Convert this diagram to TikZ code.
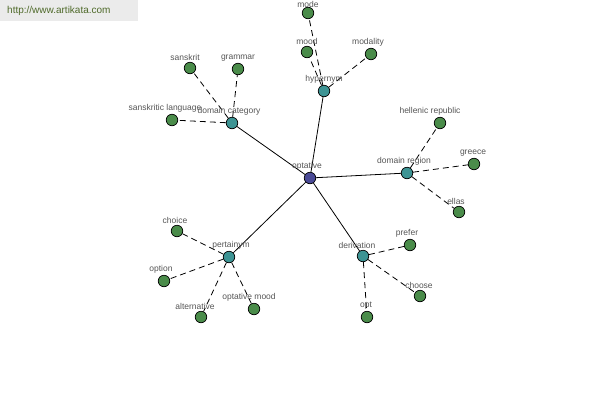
\documentclass[tikz,border=0pt]{standalone}
\usepackage{fontspec}
\setmainfont{Liberation Sans}
\usetikzlibrary{backgrounds}
\definecolor{centerfill}{HTML}{4A4A96}
\definecolor{relfill}{HTML}{3D9494}
\definecolor{leaffill}{HTML}{4A8C4A}
\definecolor{lblgray}{HTML}{555555}
\definecolor{sitegreen}{HTML}{4F6A2A}
\definecolor{sitebg}{HTML}{EBEBEB}
\tikzset{
  word/.style={circle, draw, line width=0.7pt, minimum size=11.5pt, inner sep=0pt},
  centerword/.style={word, fill=centerfill},
  relword/.style={word, fill=relfill},
  leafword/.style={word, fill=leaffill},
  every label/.style={font=\fontsize{8.5}{9}\selectfont, text=lblgray, inner sep=1pt, xshift=-3pt},
  rel/.style={line width=0.8pt},
  leafedge/.style={line width=0.8pt, dash pattern=on 6pt off 4pt}
}
\begin{document}
\begin{tikzpicture}[x=1pt, y=-1pt]
\useasboundingbox (0,0) rectangle (600,400);
% site banner
\fill[sitebg] (0,0) rectangle (138,21);
\node[anchor=west, text=sitegreen, font=\fontsize{10}{11}\selectfont, inner sep=0pt] (site) at (7,11) {http://www.artikata.com};

% Center and relation nodes
\node[centerword, label=above:optative] (optative) at (310,178) {};
\node[relword, label={[xshift=3pt]above:hypernym}] (hypernym) at (324,91) {};
\node[relword, label=above:domain category] (domcat) at (232,123) {};
\node[relword, label=above:domain region] (domreg) at (407,173) {};
\node[relword, label={[xshift=5pt]above:pertainym}] (pertainym) at (229,257) {};
\node[relword, label={[xshift=-3pt]above:derivation}] (derivation) at (363,256) {};

% Leaves
\node[leafword, label={[xshift=3pt, label distance=-2pt]above:mode}] (mode) at (308,13) {};
\node[leafword, label={[xshift=3pt]above:mood}] (mood) at (307,52) {};
\node[leafword, label=above:modality] (modality) at (371,54) {};
\node[leafword, label={[xshift=-2pt]above:sanskrit}] (sanskrit) at (190,68) {};
\node[leafword, label={[xshift=3pt]above:grammar}] (grammar) at (238,69) {};
\node[leafword, label={[xshift=-4pt]above:sanskritic language}] (sanslang) at (172,120) {};
\node[leafword, label={[xshift=-7pt]above:hellenic republic}] (hellenic) at (440,123) {};
\node[leafword, label={[xshift=2pt]above:greece}] (greece) at (474,164) {};
\node[leafword, label=above:ellas] (ellas) at (459,212) {};
\node[leafword, label={[xshift=1pt]above:choice}] (choice) at (177,231) {};
\node[leafword, label=above:option] (option) at (164,281) {};
\node[leafword, label={[xshift=-3pt]above:alternative}] (alternative) at (201,317) {};
\node[leafword, label={[xshift=-2pt]above:optative mood}] (optmood) at (254,309) {};
\node[leafword, label=above:prefer] (prefer) at (410,245) {};
\node[leafword, label={[xshift=2pt]above:choose}] (choose) at (420,296) {};
\node[leafword, label={[xshift=2pt]above:opt}] (opt) at (367,317) {};

% Connectors, kept under the labels
\begin{scope}[on background layer]
\foreach \r in {hypernym, domcat, domreg, pertainym, derivation}
  \draw[rel] (optative) -- (\r);
\foreach \r/\l in {hypernym/mode, hypernym/mood, hypernym/modality,
                   domcat/sanskrit, domcat/grammar, domcat/sanslang,
                   domreg/hellenic, domreg/greece, domreg/ellas,
                   pertainym/choice, pertainym/option, pertainym/alternative, pertainym/optmood,
                   derivation/prefer, derivation/choose, derivation/opt}
  \draw[leafedge] (\r) -- (\l);
\end{scope}
\end{tikzpicture}
\end{document}
